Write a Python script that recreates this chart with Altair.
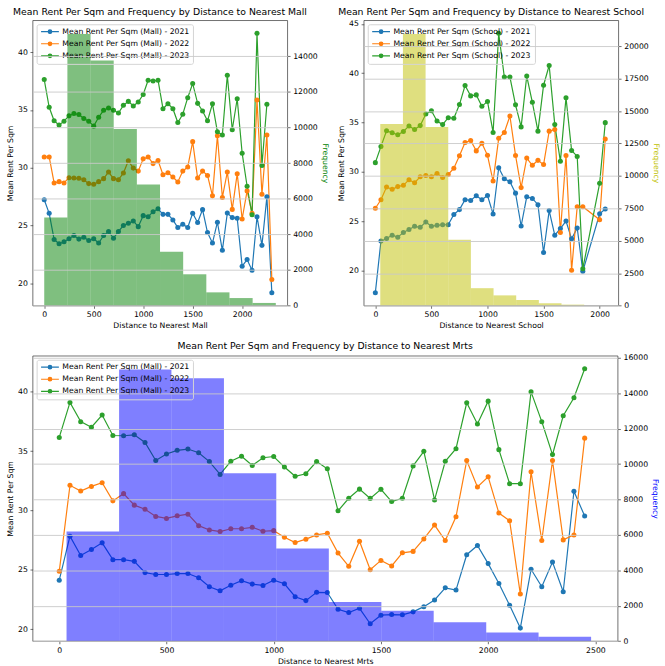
import altair as alt
import pandas as pd

# ---------------- data: distance to nearest mall ----------------
mall_dist = [0, 50, 100, 150, 200, 250, 300, 350, 400, 450, 500, 550, 600, 650, 700, 750,
             800, 850, 900, 950, 1000, 1050, 1100, 1150, 1200, 1250, 1300, 1350, 1400, 1450,
             1500, 1550, 1600, 1650, 1700, 1750, 1800, 1850, 1900, 1950, 2000, 2050, 2100,
             2150, 2200, 2250, 2300]
mall_2021 = [27.23, 26.06, 23.8, 23.43, 23.6, 23.86, 24.14, 23.83, 24.0, 23.71, 23.86, 23.49,
             24.14, 24.49, 23.91, 24.49, 25.0, 25.2, 25.4, 24.91, 25.86, 25.77, 26.2, 26.45,
             25.97, 25.97, 25.49, 24.83, 25.12, 24.83, 26.06, 25.26, 26.38, 24.4, 23.49, 25.29,
             22.86, 26.08, 25.69, 25.63, 21.49, 22.06, 21.14, 25.77, 23.29, 27.49, 19.2]
mall_2022 = [30.94, 30.94, 28.69, 28.8, 28.69, 29.14, 29.11, 29.09, 28.97, 28.63, 28.57, 28.8,
             29.06, 29.63, 29.06, 28.97, 29.54, 30.6, 29.97, 29.71, 30.77, 30.94, 30.36, 30.63,
             29.4, 29.57, 29.2, 28.77, 29.71, 30.06, 32.26, 29.11, 29.71, 29.34, 27.57, 32.77,
             27.43, 29.63, 26.4, 29.49, 25.57, 28.0, 26.06, 35.86, 27.71, 32.83, 20.34]
mall_2023 = [37.63, 35.23, 34.06, 33.69, 34.03, 34.49, 34.69, 34.6, 34.26, 34.03, 33.6, 34.37,
             34.97, 35.17, 34.97, 34.74, 35.4, 35.74, 35.34, 35.69, 36.34, 37.57, 37.5, 37.57,
             35.11, 35.54, 35.11, 33.91, 34.63, 36.06, 37.29, 35.57, 34.91, 34.06, 35.54, 33.11,
             32.83, 38.0, 33.29, 35.97, 31.26, 28.4, 25.94, 41.63, 30.2, 35.49]
mall_edges = [0, 234, 468, 702, 936, 1170, 1404, 1638, 1872, 2106, 2340]
mall_counts = [4950, 15260, 13760, 9920, 6800, 3020, 1760, 745, 425, 150]

# ---------------- data: distance to nearest school ----------------
school_dist = [0, 50, 100, 150, 200, 250, 300, 350, 400, 450, 500, 550, 600, 650, 700, 750,
               800, 850, 900, 950, 1000, 1050, 1100, 1150, 1200, 1250, 1300, 1350, 1400, 1450,
               1500, 1550, 1600, 1650, 1700, 1750, 1800, 1850, 2000, 2050]
school_2021 = [17.77, 22.99, 23.26, 23.59, 23.39, 23.86, 24.16, 24.49, 24.39, 24.92, 24.49, 24.59,
               24.65, 24.65, 25.69, 26.18, 27.18, 27.11, 27.58, 27.18, 27.6, 25.74, 30.43, 29.31,
               29.01, 27.85, 24.52, 27.48, 27.31, 26.68, 21.84, 26.08, 23.59, 24.26, 25.02, 23.22,
               24.32, 19.93, 25.75, 26.25]
school_2022 = [26.32, 27.18, 28.48, 28.24, 28.51, 28.64, 29.21, 28.91, 29.51, 29.64, 29.51, 29.84,
               29.44, 29.74, 30.37, 31.64, 32.98, 33.18, 32.13, 32.9, 31.68, 29.07, 33.4, 34.0,
               35.66, 31.67, 28.41, 31.4, 30.67, 31.17, 30.74, 34.13, 34.3, 23.86, 31.67, 20.03,
               26.48, 26.48, 25.15, 33.33]
school_2023 = [30.94, 32.57, 34.16, 33.96, 33.76, 34.1, 34.66, 34.3, 34.69, 35.86, 36.19, 35.16,
               34.79, 35.49, 35.43, 36.82, 38.75, 37.7, 37.8, 36.64, 37.14, 34.0, 44.04, 39.61,
               39.61, 36.79, 34.56, 39.71, 37.05, 34.13, 38.78, 40.78, 34.79, 31.07, 37.52, 32.17,
               31.57, 20.2, 28.84, 34.99]
school_edges = [44, 246, 448, 650, 852, 1054, 1256, 1458, 1660, 1862, 2064]
school_counts = [14000, 20950, 13780, 5075, 1345, 790, 430, 190, 76, 0]

# ---------------- data: distance to nearest MRT ----------------
mrt_dist = [0, 50, 100, 150, 200, 250, 300, 350, 400, 450, 500, 550, 600, 650, 700, 750,
            800, 850, 900, 950, 1000, 1050, 1100, 1150, 1200, 1250, 1300, 1350, 1400, 1450,
            1500, 1550, 1600, 1650, 1700, 1750, 1800, 1850, 1900, 1950, 2000, 2050, 2100,
            2150, 2200, 2250, 2300, 2350, 2400, 2450]
mrt_2021 = [24.12, 27.83, 26.21, 26.71, 27.27, 25.85, 25.85, 25.71, 24.76, 24.6, 24.6, 24.68,
            24.68, 24.33, 23.57, 23.23, 23.7, 24.08, 23.79, 23.68, 24.12, 23.82, 22.73, 22.4,
            23.1, 23.08, 21.67, 21.39, 21.75, 20.45, 21.17, 21.22, 21.2, 21.45, 21.89, 22.45,
            23.48, 23.29, 26.27, 27.05, 25.52, 23.84, 22.01, 20.08, 25.04, 23.57, 25.65, 23.15,
            31.62, 29.53]
mrt_2022 = [24.87, 32.12, 31.64, 32.03, 32.34, 30.81, 31.42, 30.45, 30.11, 29.5, 29.33, 29.55,
            29.69, 28.72, 28.36, 28.22, 28.46, 28.46, 28.58, 28.25, 28.3, 27.74, 27.3, 27.58,
            27.94, 28.08, 26.41, 25.29, 27.41, 25.01, 25.79, 25.32, 26.43, 26.55, 27.6, 28.77,
            27.47, 29.47, 34.21, 31.98, 32.84, 29.78, 29.14, 22.95, 33.26, 27.47, 34.21, 27.52,
            27.94, 36.1]
mrt_2023 = [36.16, 39.11, 37.49, 37.02, 38.05, 36.32, 36.3, 36.38, 35.74, 34.21, 34.76, 35.07,
            35.18, 34.87, 34.12, 33.04, 34.15, 34.57, 33.8, 34.45, 34.55, 33.66, 32.88, 33.1,
            34.12, 33.51, 29.97, 31.03, 31.8, 31.02, 31.78, 30.75, 31.03, 33.76, 34.99, 30.89,
            34.15, 35.21, 39.08, 37.3, 39.22, 35.13, 32.26, 32.26, 40.0, 37.49, 34.71, 37.99,
            39.5, 41.95]
mrt_edges = [34, 279, 523, 768, 1012, 1257, 1502, 1746, 1991, 2235, 2480]
mrt_counts = [6190, 15350, 14850, 9480, 5225, 2205, 1715, 1065, 490, 245]

YEARS = ["2021", "2022", "2023"]
LINE_COLORS = ["#1f77b4", "#ff7f0e", "#2ca02c"]
FONT = "DejaVu Sans"
# legend glyph: a short line with a (ring-filled) dot in the middle
LEGEND_SYMBOL = ("M-3,0H3"
                 "M0.6,0A0.6,0.6 0 1,1 -0.6,0A0.6,0.6 0 1,1 0.6,0"
                 "M0.2,0A0.2,0.2 0 1,1 -0.2,0A0.2,0.2 0 1,1 0.2,0")


def panel(kind, dist, series, edges, counts, bar_color, title_color, xtitle, title,
          width, height, xticks, yticks, rticks):
    labels = [f"Mean Rent Per Sqm ({kind}) - {y}" for y in YEARS]
    rows = []
    for lab, vals in zip(labels, series):
        for d, v in zip(dist, vals):
            rows.append({"dist": d, "rent": v, "series": lab})
    df = pd.DataFrame(rows)
    hist = pd.DataFrame({"x0": edges[:-1], "x1": edges[1:], "count": counts,
                         "base": [0] * len(counts)})

    xmin = min(min(dist), edges[0])
    xmax = max(max(dist), edges[-1])
    xr = xmax - xmin
    allv = [v for s in series for v in s]
    ymin, ymax = min(allv), max(allv)
    yr = ymax - ymin

    xs = alt.Scale(domain=[xmin - 0.05 * xr, xmax + 0.05 * xr], nice=False, zero=False)
    ys = alt.Scale(domain=[ymin - 0.05 * yr, ymax + 0.05 * yr], nice=False, zero=False)
    rs = alt.Scale(domain=[0, max(counts) * 1.05], nice=False, zero=False)
    cs = alt.Scale(domain=labels, range=LINE_COLORS)

    xaxis = alt.Axis(title=xtitle, values=xticks, format="d", grid=False)
    yaxis = alt.Axis(title="Mean Rent Per Sqm", values=yticks, format="d", grid=False,
                     orient="left")
    raxis = alt.Axis(title="Frequency", orient="right", values=rticks, format="d",
                     grid=True, gridColor="#c9c9c9", gridWidth=0.9, zindex=1,
                     titleColor=title_color)
    leg = alt.Legend(orient="top-left", offset=4, padding=3.5, rowPadding=2.2,
                     fillColor="rgba(255,255,255,0)", strokeColor="#d4d4d4",
                     cornerRadius=2, title=None, labelFont=FONT, labelFontSize=7.8,
                     labelColor="black", labelLimit=300, symbolType=LEGEND_SYMBOL,
                     symbolSize=36, symbolStrokeWidth=1.2, symbolOffset=6,
                     labelOffset=8.5)

    line = alt.Chart(df).mark_line(strokeWidth=1.2).encode(
        x=alt.X("dist:Q", scale=xs, axis=xaxis),
        y=alt.Y("rent:Q", scale=ys, axis=yaxis),
        color=alt.Color("series:N", scale=cs, legend=leg),
    )
    pts = alt.Chart(df).mark_circle(size=26, opacity=1).encode(
        x=alt.X("dist:Q", scale=xs, axis=xaxis),
        y=alt.Y("rent:Q", scale=ys, axis=yaxis),
        color=alt.Color("series:N", scale=cs, legend=leg),
    )
    bars = alt.Chart(hist).mark_rect(opacity=0.5, color=bar_color).encode(
        x=alt.X("x0:Q", scale=xs, axis=xaxis),
        x2="x1:Q",
        y=alt.Y("count:Q", scale=rs, axis=raxis),
        y2="base:Q",
    )
    return alt.layer(alt.layer(line, pts), bars).resolve_scale(y="independent").properties(
        width=width, height=height, title=title)


mall = panel("Mall", mall_dist, [mall_2021, mall_2022, mall_2023], mall_edges, mall_counts,
             "green", "green", "Distance to Nearest Mall",
             "Mean Rent Per Sqm and Frequency by Distance to Nearest Mall",
             257.4, 288.3, [0, 500, 1000, 1500, 2000], [20, 25, 30, 35, 40],
             [0, 2000, 4000, 6000, 8000, 10000, 12000, 14000])
school = panel("School", school_dist, [school_2021, school_2022, school_2023], school_edges,
               school_counts, "#bfbf00", "#bfbf00", "Distance to Nearest School",
               "Mean Rent Per Sqm and Frequency by Distance to Nearest School",
               257.3, 288.3, [0, 500, 1000, 1500, 2000], [20, 25, 30, 35, 40, 45],
               [0, 2500, 5000, 7500, 10000, 12500, 15000, 17500, 20000])
mrt = panel("Mall", mrt_dist, [mrt_2021, mrt_2022, mrt_2023], mrt_edges, mrt_counts,
            "blue", "blue", "Distance to Nearest Mrts",
            "Mean Rent Per Sqm and Frequency by Distance to Nearest Mrts",
            591.2, 288.3, [0, 500, 1000, 1500, 2000, 2500], [20, 25, 30, 35, 40],
            [0, 2000, 4000, 6000, 8000, 10000, 12000, 14000, 16000])

indep = dict(color="independent")
top = alt.hconcat(mall, school, spacing=76.6, bounds="flush").resolve_scale(
    **indep).resolve_legend(**indep)
chart = alt.vconcat(top, mrt, spacing=10).resolve_scale(
    **indep).resolve_legend(**indep)

chart = chart.properties(
    padding={"left": 6, "top": 2, "right": 5, "bottom": 3},
    background="white",
).configure_view(
    stroke="#333333", strokeWidth=0.7
).configure_axis(
    labelFont=FONT, labelFontSize=7.8, labelColor="black",
    titleFont=FONT, titleFontSize=7.8, titleFontWeight="normal", titleColor="black",
    tickColor="#333333", tickSize=2.7, tickWidth=0.7, domain=False,
    labelPadding=2.7, titlePadding=3,
).configure_title(
    font=FONT, fontSize=9.4, fontWeight="normal", color="black", anchor="middle", offset=3
)

chart.save("out.html", embed_options={"renderer": "svg", "actions": False})
